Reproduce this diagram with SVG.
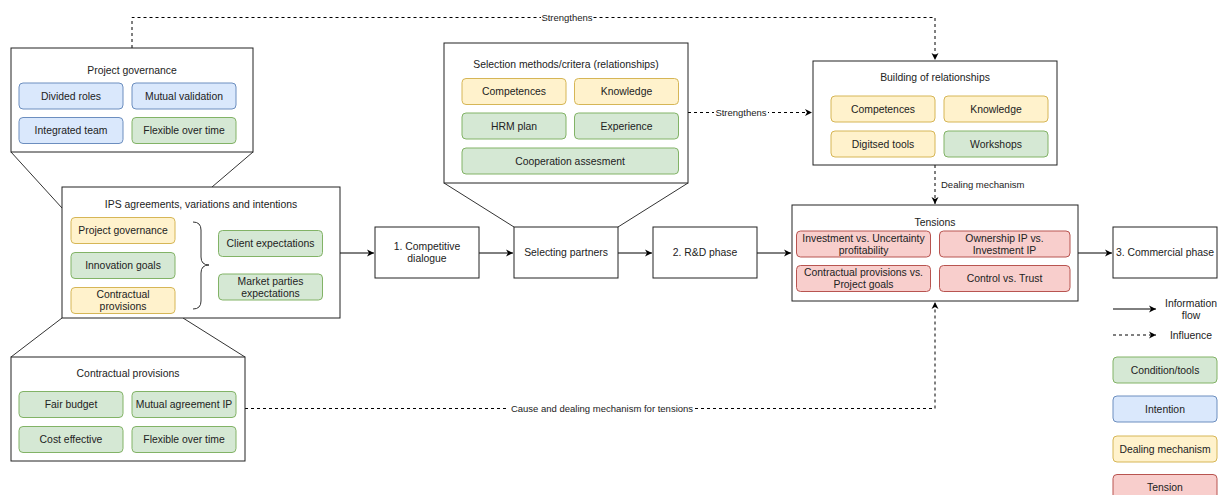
<svg xmlns="http://www.w3.org/2000/svg" width="1225" height="495" viewBox="0 0 1225 495">
<defs>
<style>
text{font-family:"Liberation Sans",Arial,sans-serif;font-size:10.4px;fill:#222;text-anchor:middle;dominant-baseline:central}
.lbl{font-size:9.5px}
.cont{fill:#fff;stroke:#222;stroke-width:1}
.g{fill:#d5e8d4;stroke:#82b366}
.b{fill:#dae8fc;stroke:#6c8ebf}
.y{fill:#fff2cc;stroke:#d6b656}
.r{fill:#f8cecc;stroke:#b85450}
.flow{fill:none;stroke:#000;stroke-width:1}
.dash{fill:none;stroke:#000;stroke-width:1;stroke-dasharray:3 3}
.thin{fill:none;stroke:#333;stroke-width:1}
</style>
<marker id="ah" markerWidth="8" markerHeight="8" refX="7" refY="4" orient="auto" markerUnits="userSpaceOnUse">
<path d="M0,0.5 L7,4 L0,7.5 L2,4 Z" fill="#000"/>
</marker>
</defs>

<g id="connectors">
<line class="thin" x1="11" y1="152" x2="62" y2="208"/>
<line class="thin" x1="253" y1="152" x2="212" y2="187"/>
<line class="thin" x1="11" y1="357" x2="62" y2="318"/>
<line class="thin" x1="245" y1="357" x2="183" y2="318"/>
<line class="thin" x1="444" y1="183" x2="514" y2="227"/>
<line class="thin" x1="688" y1="183" x2="618" y2="227"/>
<line class="flow" x1="340" y1="253" x2="374" y2="253" marker-end="url(#ah)"/>
<line class="flow" x1="479" y1="253" x2="513" y2="253" marker-end="url(#ah)"/>
<line class="flow" x1="618" y1="253" x2="652" y2="253" marker-end="url(#ah)"/>
<line class="flow" x1="757" y1="253" x2="791" y2="253" marker-end="url(#ah)"/>
<line class="flow" x1="1078" y1="253" x2="1112" y2="253" marker-end="url(#ah)"/>
<polyline class="dash" points="132,48 132,17.5 935,17.5 935,60" marker-end="url(#ah)"/>
<rect x="541" y="11" width="52" height="13" fill="#fff"/>
<text class="lbl" x="567" y="17.5">Strengthens</text>
<line class="dash" x1="688" y1="112.5" x2="812" y2="112.5" marker-end="url(#ah)"/>
<rect x="714" y="106" width="54" height="13" fill="#fff"/>
<text class="lbl" x="741" y="112.5">Strengthens</text>
<line class="dash" x1="935" y1="165" x2="935" y2="204" marker-end="url(#ah)"/>
<text class="lbl" x="941" y="184" style="text-anchor:start">Dealing mechanism</text>
<polyline class="dash" points="245,408.5 935,408.5 935,302" marker-end="url(#ah)"/>
<rect x="509" y="402" width="186" height="13" fill="#fff"/>
<text class="lbl" x="602" y="408.5">Cause and dealing mechanism for tensions</text>
</g>

<g id="project-governance">
<rect class="cont" x="11" y="48" width="242" height="104"/>
<text x="132" y="70">Project governance</text>
<rect class="b" x="19" y="83" width="104" height="26" rx="4"/>
<text x="71" y="96">Divided roles</text>
<rect class="b" x="132" y="83" width="104" height="26" rx="4"/>
<text x="184" y="96">Mutual validation</text>
<rect class="b" x="19" y="117.5" width="104" height="26" rx="4"/>
<text x="71" y="130.5">Integrated team</text>
<rect class="g" x="132" y="117.5" width="104" height="26" rx="4"/>
<text x="184" y="130.5">Flexible over time</text>
</g>

<g id="ips-agreements">
<rect class="cont" x="62" y="187" width="278" height="131"/>
<text x="201" y="204">IPS agreements, variations and intentions</text>
<rect class="y" x="71" y="217.5" width="104" height="26" rx="4"/>
<text x="123" y="230.5">Project governance</text>
<rect class="g" x="71" y="252.5" width="104" height="26" rx="4"/>
<text x="123" y="265.5">Innovation goals</text>
<rect class="y" x="71" y="287.5" width="104" height="26" rx="4"/>
<text x="123" y="294.5">Contractual</text>
<text x="123" y="306.5">provisions</text>
<path class="thin" d="M193,222 Q201,222 201,230 L201,257 Q201,265 209,265 Q201,265 201,273 L201,301 Q201,309 193,309"/>
<rect class="g" x="218.5" y="230.5" width="104" height="26" rx="4"/>
<text x="270.5" y="243.5">Client expectations</text>
<rect class="g" x="218.5" y="274" width="104" height="26" rx="4"/>
<text x="270.5" y="281">Market parties</text>
<text x="270.5" y="293">expectations</text>
</g>

<g id="contractual-provisions">
<rect class="cont" x="11" y="357" width="234" height="104"/>
<text x="128" y="373">Contractual provisions</text>
<rect class="g" x="19" y="391.5" width="104" height="26" rx="4"/>
<text x="71" y="404.5">Fair budget</text>
<rect class="g" x="132" y="391.5" width="104" height="26" rx="4"/>
<text x="184" y="404.5">Mutual agreement IP</text>
<rect class="g" x="19" y="426.5" width="104" height="26" rx="4"/>
<text x="71" y="439.5">Cost effective</text>
<rect class="g" x="132" y="426.5" width="104" height="26" rx="4"/>
<text x="184" y="439.5">Flexible over time</text>
</g>

<g id="competitive-dialogue">
<rect class="cont" x="375" y="227" width="104" height="51"/>
<text x="427" y="246.5">1. Competitive</text>
<text x="427" y="258.5">dialogue</text>
</g>

<g id="selecting-partners">
<rect class="cont" x="514" y="227" width="104" height="51"/>
<text x="566" y="252.5">Selecting partners</text>
</g>

<g id="rd-phase">
<rect class="cont" x="653" y="227" width="104" height="51"/>
<text x="705" y="252.5">2. R&amp;D phase</text>
</g>

<g id="commercial-phase">
<rect class="cont" x="1113" y="227" width="104" height="51"/>
<text x="1165" y="252.5">3. Commercial phase</text>
</g>

<g id="selection-methods">
<rect class="cont" x="444" y="43" width="244" height="140"/>
<text x="566" y="64">Selection methods/critera (relationships)</text>
<rect class="y" x="462" y="78.5" width="104" height="26" rx="4"/>
<text x="514" y="91.5">Competences</text>
<rect class="y" x="574.5" y="78.5" width="104" height="26" rx="4"/>
<text x="626.5" y="91.5">Knowledge</text>
<rect class="g" x="462" y="113" width="104" height="26" rx="4"/>
<text x="514" y="126">HRM plan</text>
<rect class="g" x="574.5" y="113" width="104" height="26" rx="4"/>
<text x="626.5" y="126">Experience</text>
<rect class="g" x="462" y="148" width="216.5" height="26" rx="4"/>
<text x="570" y="161">Cooperation assesment</text>
</g>

<g id="building-relationships">
<rect class="cont" x="813" y="61" width="244" height="104"/>
<text x="935" y="77">Building of relationships</text>
<rect class="y" x="831" y="96" width="104" height="26" rx="4"/>
<text x="883" y="109">Competences</text>
<rect class="y" x="944" y="96" width="104" height="26" rx="4"/>
<text x="996" y="109">Knowledge</text>
<rect class="y" x="831" y="131" width="104" height="26" rx="4"/>
<text x="883" y="144">Digitsed tools</text>
<rect class="g" x="944" y="131" width="104" height="26" rx="4"/>
<text x="996" y="144">Workshops</text>
</g>

<g id="tensions">
<rect class="cont" x="792" y="205" width="286" height="96"/>
<text x="935" y="222">Tensions</text>
<rect class="r" x="796.5" y="231" width="134" height="26" rx="4"/>
<text x="863.5" y="238">Investment vs. Uncertainty</text>
<text x="863.5" y="250">profitability</text>
<rect class="r" x="939.5" y="231" width="130.5" height="26" rx="4"/>
<text x="1004.5" y="238">Ownership IP vs.</text>
<text x="1004.5" y="250">Investment IP</text>
<rect class="r" x="796.5" y="265.5" width="134" height="26" rx="4"/>
<text x="863.5" y="272.5">Contractual provisions vs.</text>
<text x="863.5" y="284.5">Project goals</text>
<rect class="r" x="939.5" y="265.5" width="130.5" height="26" rx="4"/>
<text x="1004.5" y="278.5">Control vs. Trust</text>
</g>

<g id="legend">
<line class="flow" x1="1113" y1="309" x2="1156" y2="309" marker-end="url(#ah)"/>
<text x="1191" y="303">Information</text>
<text x="1191" y="315">flow</text>
<line class="dash" x1="1113" y1="335" x2="1156" y2="335" marker-end="url(#ah)"/>
<text x="1191" y="335">Influence</text>
<rect class="g" x="1113" y="357" width="104" height="26" rx="4"/>
<text x="1165" y="370">Condition/tools</text>
<rect class="b" x="1113" y="396" width="104" height="26" rx="4"/>
<text x="1165" y="409">Intention</text>
<rect class="y" x="1113" y="436" width="104" height="26" rx="4"/>
<text x="1165" y="449">Dealing mechanism</text>
<rect class="r" x="1113" y="474.5" width="104" height="26" rx="4"/>
<text x="1165" y="487.5">Tension</text>
</g>
</svg>
